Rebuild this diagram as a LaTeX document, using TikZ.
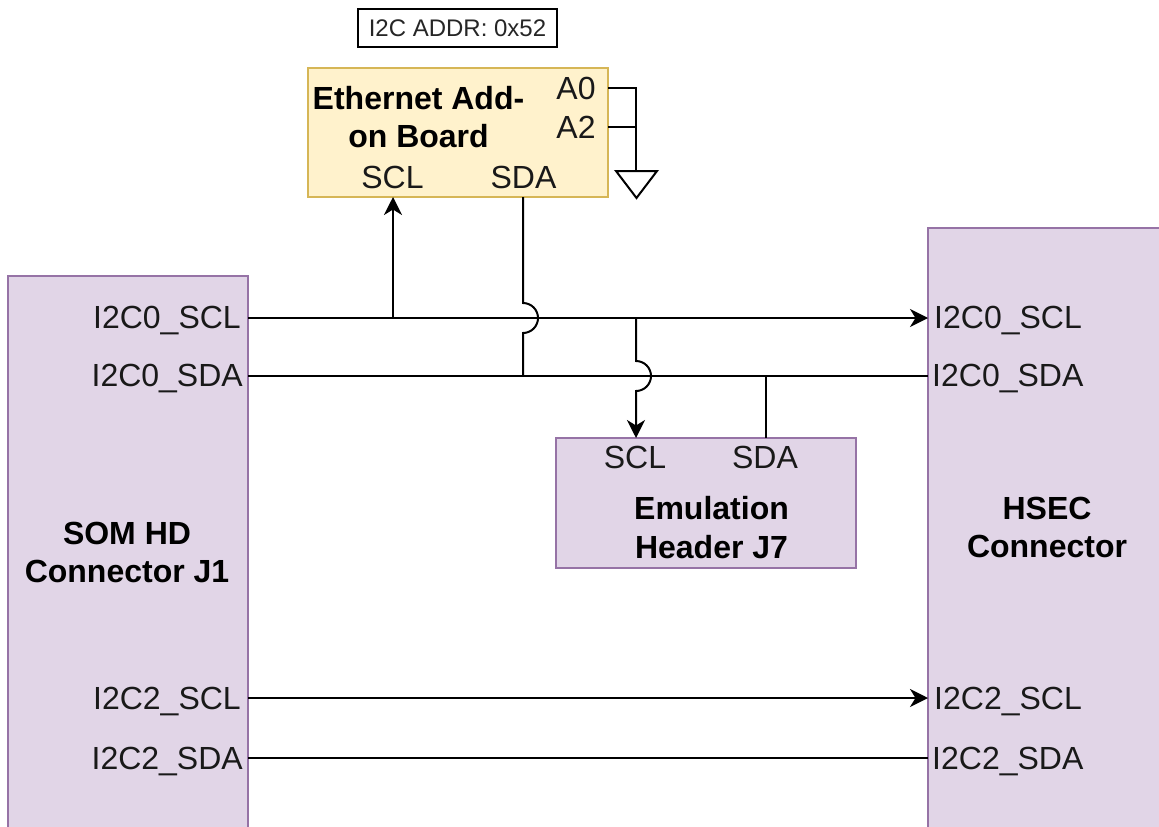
\documentclass[tikz,border=0pt]{standalone}
\usepackage{fontspec}
\setmainfont{Liberation Sans}
\usetikzlibrary{arrows.meta,calc}
\tikzset{
  purplebox/.style={draw=boxpurple,fill=fillpurple,line width=2pt,inner sep=0pt,outer sep=0pt,anchor=north west},
  yellowbox/.style={draw=boxyellow,fill=fillyellow,line width=2pt,inner sep=0pt,outer sep=0pt,anchor=north west},
  sig/.style={font=\fontsize{32}{36}\selectfont,inner sep=0pt,text=black!90},
  ttl/.style={font=\fontsize{32}{38.5}\selectfont\bfseries,inner sep=0pt,align=center},
  wire/.style={line width=2pt,draw=black},
  arrowwire/.style={wire,-{Stealth[length=18pt,width=18pt,inset=5.5pt]}}
}
\definecolor{boxpurple}{HTML}{9673A6}
\definecolor{fillpurple}{HTML}{E1D5E7}
\definecolor{boxyellow}{HTML}{D6B656}
\definecolor{fillyellow}{HTML}{FFF2CC}
\begin{document}
\begin{tikzpicture}[x=1pt,y=-1pt]
\useasboundingbox (0,0) rectangle (1159,827);
% boxes
\node[purplebox,minimum width=240pt,minimum height=556pt] (som) at (8,276) {};
\node[purplebox,minimum width=234pt,minimum height=604pt] (hsec) at (928,228) {};
\node[yellowbox,minimum width=300pt,minimum height=129pt] (eth) at (308,68) {};
\node[purplebox,minimum width=300pt,minimum height=130pt] (emu) at (556,438) {};
\node[draw=black,line width=2pt,fill=white,minimum width=199pt,minimum height=38pt,inner sep=0pt,outer sep=0pt,anchor=north west,font=\fontsize{24}{28}\selectfont,text=black!85] (addr) at (358,9) {I2C ADDR: 0x52};
% titles
\node[ttl] (somt) at (127,552.5) {SOM HD\\Connector J1};
\node[ttl] (hsect) at (1047,527.5) {HSEC\\Connector};
\node[ttl] (etht) at (418.5,117) {Ethernet Add-\\on Board};
\node[ttl] (emut) at (711.5,527.5) {Emulation\\Header J7};
% left signals
\node[sig,anchor=east] (l0c) at (241,321) {I2C0\_SCL};
\node[sig,anchor=east] (l0d) at (243,379) {I2C0\_SDA};
\node[sig,anchor=east] (l2c) at (241,701) {I2C2\_SCL};
\node[sig,anchor=east] (l2d) at (243,761) {I2C2\_SDA};
% right signals
\node[sig,anchor=west] (r0c) at (934,321) {I2C0\_SCL};
\node[sig,anchor=west] (r0d) at (932,379) {I2C0\_SDA};
\node[sig,anchor=west] (r2c) at (934,701) {I2C2\_SCL};
\node[sig,anchor=west] (r2d) at (932,761) {I2C2\_SDA};
% ethernet pins
\node[sig] (escl) at (392.5,177.5) {SCL};
\node[sig] (esda) at (523.5,177.5) {SDA};
\node[sig] (a0) at (576,88.5) {A0};
\node[sig] (a2) at (576,127.5) {A2};
% emulation pins
\node[sig] (hscl) at (635,457.5) {SCL};
\node[sig] (hsda) at (765,457.5) {SDA};
% anchor points
\coordinate (sE0c) at ($(som.east |- l0c)+(0,-3)$);
\coordinate (sE0d) at ($(som.east |- l0d)+(0,-3)$);
\coordinate (sE2c) at ($(som.east |- l2c)+(0,-3)$);
\coordinate (sE2d) at ($(som.east |- l2d)+(0,-3)$);
\coordinate (hW0c) at ($(hsec.west |- r0c)+(0,-3)$);
\coordinate (hW0d) at ($(hsec.west |- r0d)+(0,-3)$);
\coordinate (hW2c) at ($(hsec.west |- r2c)+(0,-3)$);
\coordinate (hW2d) at ($(hsec.west |- r2d)+(0,-3)$);
\coordinate (gndtop) at (636,171);
\coordinate (eS1) at (393,197);
\coordinate (eS2) at (523,197);
\coordinate (mT1) at (636,438);
\coordinate (mT2) at (766,438);
% horizontal buses
\draw[arrowwire] (sE0c) -- (hW0c);
\draw[wire] (sE0d) -- (hW0d);
\draw[arrowwire] (sE2c) -- (hW2c);
\draw[wire] (sE2d) -- (hW2d);
% ethernet SCL / SDA
\draw[arrowwire] (eS1 |- sE0c) -- (eS1);
\draw[wire] (eS2) -- ++(0,106) arc[start angle=-90,end angle=90,radius=15] -- (eS2 |- sE0d);
% emulation SCL / SDA
\draw[arrowwire] (mT1 |- hW0c) -- ++(0,43) arc[start angle=-90,end angle=90,radius=15] -- (mT1);
\draw[wire] (mT2 |- hW0d) -- (mT2);
% address straps and ground
\draw[wire] (eth.east |- 0,88) -- (636,88) -- (gndtop);
\draw[wire] (eth.east |- 0,127) -- (636,127);
\draw[wire,fill=white,line join=miter] (616,171) -- (657,171) -- (636.5,198) -- cycle;
\end{tikzpicture}
\end{document}
